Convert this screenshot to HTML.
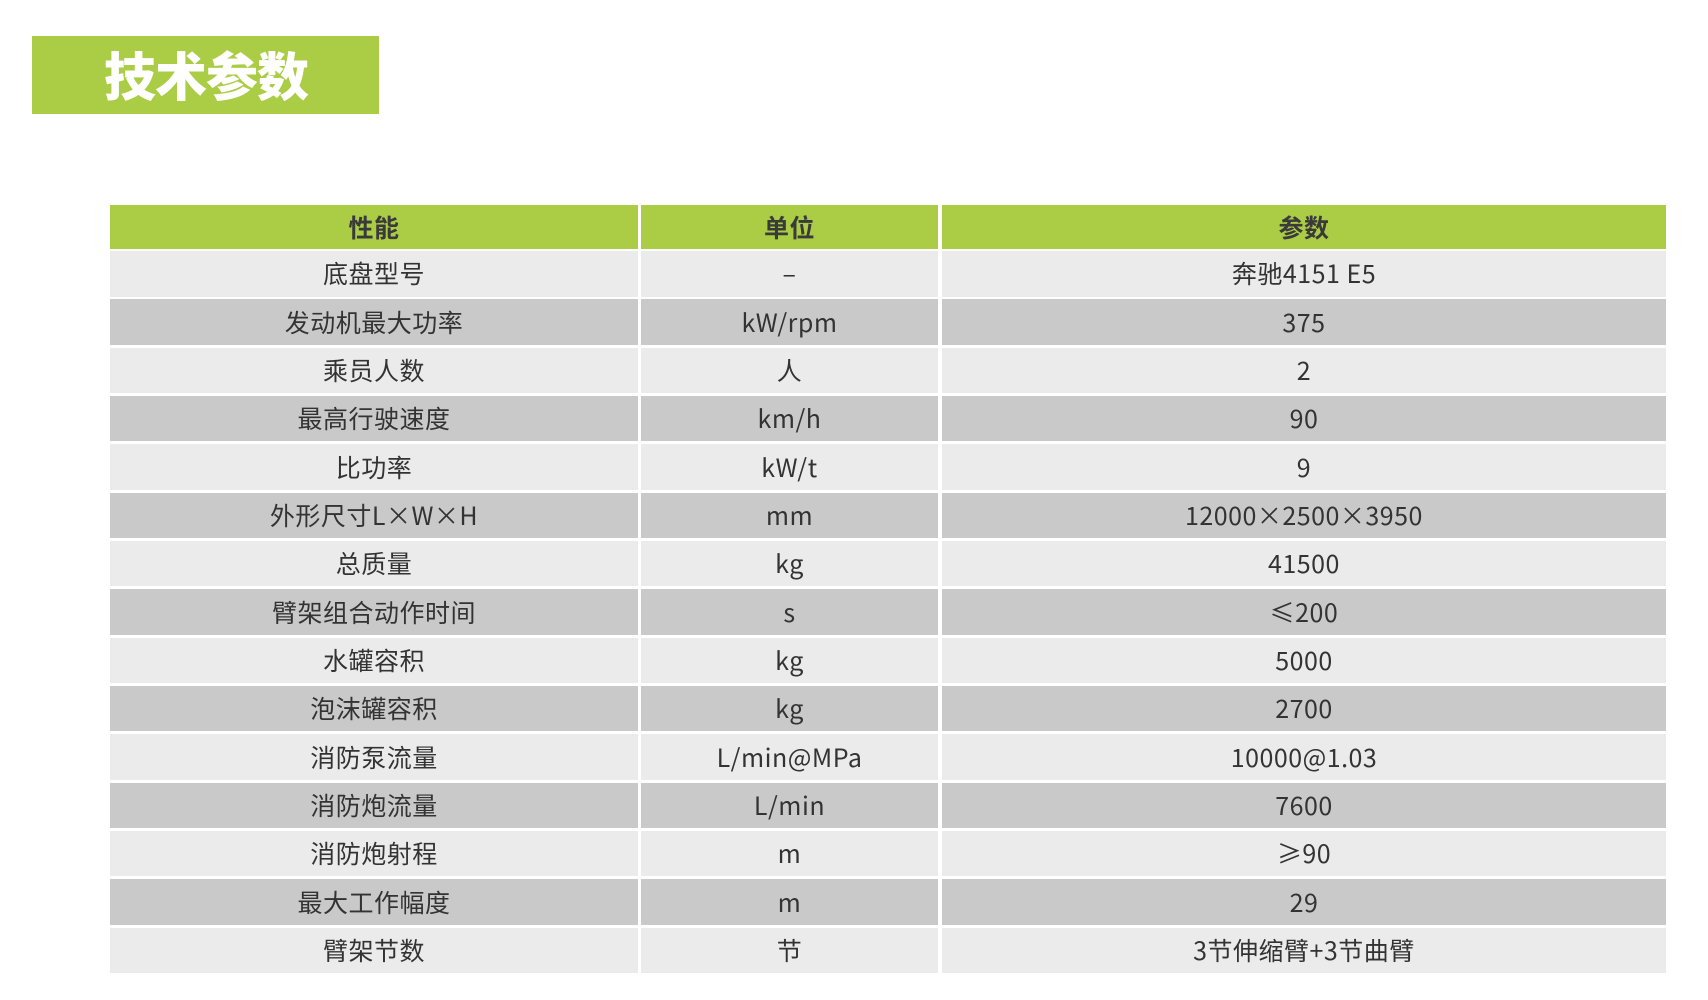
<!DOCTYPE html>
<html><head><meta charset="utf-8"><style>
body{margin:0;width:1708px;height:1000px;background:#fff;position:relative;overflow:hidden;font-family:"Noto Sans CJK SC",sans-serif;}
.t{position:absolute;left:32px;top:36px;width:347px;height:78px;background:#abcd45;}
.t span{position:absolute;left:72px;top:4px;font-size:52px;font-weight:900;color:#fff;line-height:68px;letter-spacing:-1px;}
.c{position:absolute;display:flex;align-items:center;justify-content:center;font-size:25px;color:#333;line-height:1;letter-spacing:0.5px;}
.h{background:#abcd45;font-weight:bold;color:#3a3a3a;}
.l{background:#ebebeb}.d{background:#c9c9c9}
</style></head><body>
<div class="t"><span>技术参数</span></div>
<div id="tb"></div>
<script>
const rows=[["性能","单位","参数"],["底盘型号","–","奔驰4151 E5"],["发动机最大功率","kW/rpm","375"],["乘员人数","人","2"],["最高行驶速度","km/h","90"],["比功率","kW/t","9"],["外形尺寸L×W×H","mm","12000×2500×3950"],["总质量","kg","41500"],["臂架组合动作时间","s","≤200"],["水罐容积","kg","5000"],["泡沫罐容积","kg","2700"],["消防泵流量","L/min@MPa","10000@1.03"],["消防炮流量","L/min","7600"],["消防炮射程","m","≥90"],["最大工作幅度","m","29"],["臂架节数","节","3节伸缩臂+3节曲臂"]];
const cols=[[110,528],[641,297],[942,724]];
let h="";
rows.forEach((r,i)=>{let top,ht,cls;
if(i==0){top=205;ht=44;cls="h";}else{top=251+(i-1)*48.33;ht=45.5;cls=(i%2==1)?"l":"d";}
r.forEach((t,j)=>{h+=`<div class="c ${cls}" style="left:${cols[j][0]}px;width:${cols[j][1]}px;top:${top}px;height:${ht}px">${t}</div>`;});});
document.getElementById("tb").innerHTML=h;
</script>
</body></html>
